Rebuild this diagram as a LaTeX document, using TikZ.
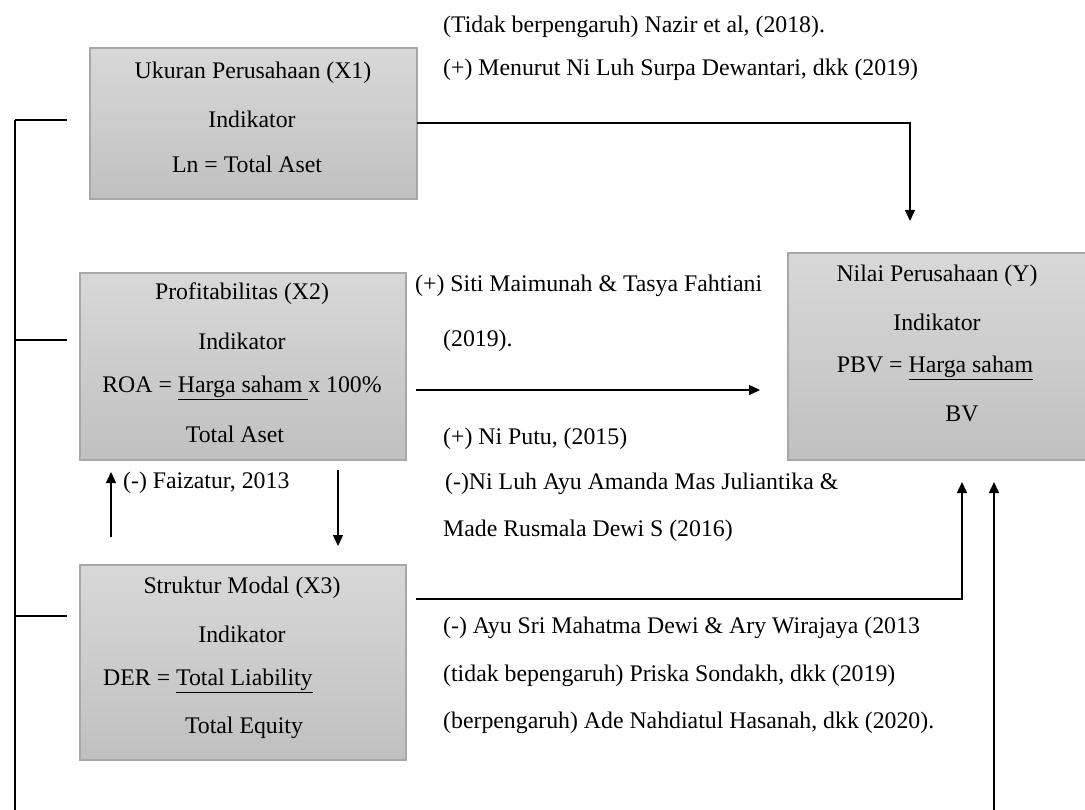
\documentclass[tikz,border=0pt]{standalone}
\usepackage{fontspec}
\setmainfont{Liberation Serif}
\usetikzlibrary{arrows.meta}
\definecolor{boxtop}{RGB}{216,216,216}
\definecolor{boxbot}{RGB}{192,192,192}
\definecolor{boxline}{RGB}{168,168,168}
\begin{document}
\begin{tikzpicture}[x=1pt,y=-1pt,
  varbox/.style={draw=boxline,line width=1.2pt,top color=boxtop,bottom color=boxbot,inner sep=0pt},
  txt/.style={inner sep=0pt,font=\fontsize{23.8}{26}\selectfont},
  ltxt/.style={txt,anchor=west},
  conn/.style={line width=1.4pt,black},
  arr/.style={conn,-{Triangle[length=11pt,width=10pt]}}]
\useasboundingbox (0,0) rectangle (1085,810);
% boxes
\path[varbox] (90,48) rectangle (417,199);
\node[inner sep=0pt,minimum width=327pt,minimum height=151pt] (X1) at (253.5,123.5) {};
\path[varbox] (80,273) rectangle (406,460);
\node[inner sep=0pt,minimum width=326pt,minimum height=187pt] (X2) at (243,366.5) {};
\path[varbox] (80,565) rectangle (406,760);
\node[inner sep=0pt,minimum width=326pt,minimum height=195pt] (X3) at (243,662.5) {};
\path[varbox] (788,253) rectangle (1085.6,460);
\node[inner sep=0pt,minimum width=297pt,minimum height=207pt] (Y) at (936.5,356.5) {};
% box texts
\node[txt] (t11) at (253,73) {Ukuran Perusahaan (X1)};
\node[txt] (t12) at (252,119) {Indikator};
\node[txt] (t13) at (247,164) {Ln = Total Aset};
\node[txt] (t21) at (242,294) {Profitabilitas (X2)};
\node[txt] (t22) at (242,341) {Indikator};
\node[txt] (t23) at (242,388) {ROA = \underline{Harga saham\ }x 100\%};
\node[txt] (t24) at (235,434) {Total Aset};
\node[txt] (t31) at (242,588) {Struktur Modal (X3)};
\node[txt] (t32) at (242,634) {Indikator};
\node[ltxt] (t33) at (103,681) {DER = \underline{Total Liability}};
\node[txt] (t34) at (244,728) {Total Equity};
\node[txt] (ty1) at (937,276) {Nilai Perusahaan (Y)};
\node[txt] (ty2) at (937,322) {Indikator};
\node[txt] (ty3) at (935,368) {PBV = \underline{Harga saham}};
\node[txt] (ty4) at (962,414) {BV};
% annotations
\node[ltxt] (a1) at (443,27) {(Tidak berpengaruh) Nazir et al, (2018).};
\node[ltxt] (a2) at (443,70) {(+) Menurut Ni Luh Surpa Dewantari, dkk (2019)};
\node[ltxt] (a3) at (415,286) {(+) Siti Maimunah \& Tasya Fahtiani};
\node[ltxt] (a4) at (443,341) {(2019).};
\node[ltxt] (a5) at (443,439) {(+) Ni Putu, (2015)};
\node[ltxt] (a6) at (445,484) {(-)Ni Luh Ayu Amanda Mas Juliantika \&};
\node[ltxt] (a7) at (443,531) {Made Rusmala Dewi S (2016)};
\node[ltxt] (a8) at (443,628) {(-) Ayu Sri Mahatma Dewi \& Ary Wirajaya (2013};
\node[ltxt] (a9) at (443,676) {(tidak bepengaruh) Priska Sondakh, dkk (2019)};
\node[ltxt] (a10) at (443,723) {(berpengaruh) Ade Nahdiatul Hasanah, dkk (2020).};
\node[ltxt] (a11) at (123,483) {(-) Faizatur, 2013};
% coordinates for connector ends
\coordinate (bTop) at (15,120);
\coordinate (bBot) at (15,810);
\coordinate (s1) at (67,120);
\coordinate (b2) at (15,340);
\coordinate (s2) at (67,340);
\coordinate (b3) at (15,616);
\coordinate (s3) at (67,616);
\coordinate (c1s) at (417,123);
\coordinate (c1k) at (910,123);
\coordinate (c1e) at (910,221);
\coordinate (c2s) at (416,390);
\coordinate (c2e) at (760,390);
\coordinate (dS) at (338,470);
\coordinate (dE) at (338,546);
\coordinate (uS) at (111,537);
\coordinate (uE) at (111,472);
\coordinate (c3s) at (416,599);
\coordinate (c3k) at (962,599);
\coordinate (c3e) at (962,482);
\coordinate (c4s) at (994,810);
\coordinate (c4e) at (994,482);
% connectors
\draw[conn] (bTop) -- (bBot);
\draw[conn] (bTop) -- (s1);
\draw[conn] (b2) -- (s2);
\draw[conn] (b3) -- (s3);
\draw[arr] (c1s) -- (c1k) -- (c1e);
\draw[arr] (c2s) -- (c2e);
\draw[arr] (dS) -- (dE);
\draw[arr] (uS) -- (uE);
\draw[arr] (c3s) -- (c3k) -- (c3e);
\draw[arr] (c4s) -- (c4e);
\end{tikzpicture}
\end{document}
